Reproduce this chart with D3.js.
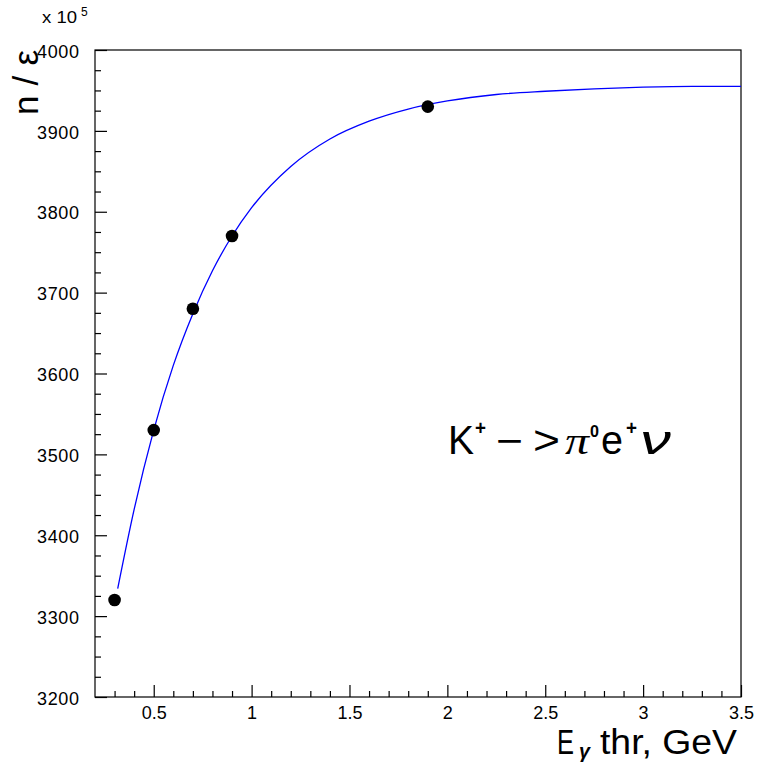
<!DOCTYPE html>
<html>
<head>
<meta charset="utf-8">
<script src="https://cdn.jsdelivr.net/npm/d3@7/dist/d3.min.js"></script>
<style>
  html, body { margin: 0; padding: 0; background: #fff; }
  svg { display: block; font-family: "Liberation Sans", Arial, Helvetica, sans-serif; }
</style>
</head>
<body>
<svg id="chart" width="759" height="768"></svg>
<script>
// Measured points: photon energy threshold (GeV) vs n/ε (in units of 10^5)
const thresholds = [0.3, 0.5, 0.7, 0.9, 1.9];
const counts = [3320, 3530, 3680, 3770, 3930];

// Fitted saturation curve, sampled
const fitX = [0.316, 0.4, 0.5, 0.6, 0.7, 0.8, 0.9, 1.0, 1.2, 1.4, 1.6, 1.8, 2.0, 2.25, 2.5, 2.75, 3.0, 3.25, 3.5];
const fitY = [3334, 3432, 3530, 3610, 3674, 3727, 3770, 3805, 3856, 3890, 3912, 3927, 3937, 3945, 3949, 3952, 3954, 3955, 3955];

// Axis ticks
const xMajorTicks = [0.5, 1, 1.5, 2, 2.5, 3, 3.5];
const xTickLabels = ["0.5", "1", "1.5", "2", "2.5", "3", "3.5"];
const yMajorTicks = [3200, 3300, 3400, 3500, 3600, 3700, 3800, 3900, 4000];
const yTickLabels = ["3200", "3300", "3400", "3500", "3600", "3700", "3800", "3900", "4000"];

const margin = { left: 95, top: 50, right: 741, bottom: 697 };

const svg = d3.select("#chart");

const x = d3.scaleLinear().domain([0.2, 3.5]).range([margin.left, margin.right]);
const y = d3.scaleLinear().domain([3200, 4000]).range([margin.bottom, margin.top]);

// Frame
svg.append("rect")
  .attr("x", margin.left).attr("y", margin.top)
  .attr("width", margin.right - margin.left)
  .attr("height", margin.bottom - margin.top)
  .attr("fill", "none").attr("stroke", "#000").attr("stroke-width", 1.2);

// Minor ticks
const xMinor = d3.range(3, 35).map(d => d / 10).filter(d => !xMajorTicks.some(m => Math.abs(m - d) < 1e-9));
const yMinor = d3.range(3200, 4001, 25).filter(d => d % 100 !== 0);

svg.append("g")
  .attr("transform", `translate(0,${margin.bottom})`)
  .call(d3.axisBottom(x).tickValues(xMinor).tickSize(-6).tickFormat(""))
  .call(g => g.select(".domain").remove());

svg.append("g")
  .attr("transform", `translate(${margin.left},0)`)
  .call(d3.axisLeft(y).tickValues(yMinor).tickSize(-6).tickFormat(""))
  .call(g => g.select(".domain").remove());

// Major ticks with labels
svg.append("g")
  .attr("transform", `translate(0,${margin.bottom})`)
  .call(d3.axisBottom(x).tickValues(xMajorTicks).tickSize(-12).tickPadding(9)
    .tickFormat((d, i) => xTickLabels[i]))
  .call(g => g.select(".domain").remove())
  .call(g => g.selectAll("text").attr("font-size", 18).attr("fill", "#000").attr("font-family", null));

svg.append("g")
  .attr("transform", `translate(${margin.left},0)`)
  .call(d3.axisLeft(y).tickValues(yMajorTicks).tickSize(-12).tickPadding(16)
    .tickFormat((d, i) => yTickLabels[i]))
  .call(g => g.select(".domain").remove())
  .call(g => g.selectAll("text").attr("font-size", 18).attr("fill", "#000").attr("font-family", null)
    .attr("dy", "0.40em").attr("textLength", 42).attr("lengthAdjust", "spacing"));

svg.selectAll(".tick line").attr("stroke", "#000").attr("stroke-width", 1.2);

// Fitted curve
const fitData = fitX.map((d, i) => [d, fitY[i]]);
svg.append("path")
  .datum(fitData)
  .attr("fill", "none")
  .attr("stroke", "#0000ff")
  .attr("stroke-width", 1.3)
  .attr("d", d3.line().x(d => x(d[0])).y(d => y(d[1])).curve(d3.curveMonotoneX));

// Data points
svg.append("g").selectAll("circle")
  .data(thresholds.map((d, i) => [d, counts[i]]))
  .join("circle")
  .attr("cx", d => x(d[0]))
  .attr("cy", d => y(d[1]))
  .attr("r", 6.3)
  .attr("fill", "#000");

// Exponent marker
svg.append("text").attr("x", 42).attr("y", 23).attr("font-size", 16).attr("fill", "#000")
  .attr("textLength", 35).attr("lengthAdjust", "spacingAndGlyphs").text("x 10");
svg.append("text").attr("x", 81).attr("y", 16).attr("font-size", 12).attr("fill", "#000").text("5");

// Y title, reading upward, ending at the top of the frame
svg.append("text")
  .attr("transform", "translate(38,50) rotate(-90)")
  .attr("text-anchor", "end")
  .attr("font-size", 35)
  .attr("fill", "#000")
  .attr("textLength", 65)
  .attr("lengthAdjust", "spacing")
  .text("n/ε");

// X title
svg.append("text").attr("x", 557).attr("y", 754).attr("font-size", 35).attr("fill", "#000")
  .attr("textLength", 17).attr("lengthAdjust", "spacingAndGlyphs").text("E");
svg.append("text").attr("x", 579).attr("y", 758).attr("font-size", 21).attr("font-style", "italic")
  .attr("font-weight", "bold").attr("fill", "#000").attr("textLength", 11)
  .attr("lengthAdjust", "spacingAndGlyphs").text("γ");
svg.append("text").attr("x", 600).attr("y", 754).attr("font-size", 35).attr("fill", "#000")
  .attr("textLength", 137).attr("lengthAdjust", "spacingAndGlyphs").text("thr, GeV");

// Decay label
const decay = [
  { t: "K", x: 448, w: 26, size: 40, base: 454 },
  { t: "+", x: 475, w: 11, size: 20, base: 435, bold: true },
  { t: "−", x: 496, w: 27, size: 38, base: 454 },
  { t: ">", x: 533, w: 27, size: 40, base: 454 },
  { t: "π", x: 565, w: 24, size: 38, base: 454, serif: true },
  { t: "0", x: 590, w: 9,  size: 17, base: 437, bold: true },
  { t: "e", x: 601, w: 22, size: 40, base: 454 },
  { t: "+", x: 626, w: 11, size: 20, base: 435, bold: true },
  { t: "ν", x: 640, w: 31, size: 40, base: 454 }
];
svg.append("g").selectAll("text")
  .data(decay)
  .join("text")
  .attr("x", d => d.x)
  .attr("y", d => d.base)
  .attr("font-size", d => d.size)
  .attr("font-family", d => d.serif ? "'Liberation Serif', 'DejaVu Serif', serif" : null)
  .attr("font-style", d => (d.t === "π" || d.t === "ν") ? "italic" : null)
  .attr("font-weight", d => d.bold ? "bold" : null)
  .attr("fill", "#000")
  .attr("textLength", d => d.w)
  .attr("lengthAdjust", "spacingAndGlyphs")
  .text(d => d.t);
</script>
</body>
</html>
